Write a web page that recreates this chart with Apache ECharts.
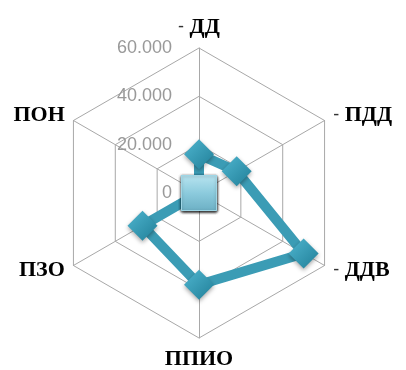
<!DOCTYPE html>
<html>
<head>
<meta charset="utf-8">
<script src="https://cdn.jsdelivr.net/npm/echarts@6/dist/echarts.min.js"></script>
<style>
  html, body { margin: 0; padding: 0; background: #fff; }
  #chart { width: 406px; height: 370px; }
</style>
</head>
<body>
<div id="chart"></div>
<script>
// 指标（ECharts 雷达图按逆时针排列，从顶部开始）
const indicatorNames = ['-ДД', 'ПОН', 'ПЗО', 'ППИО', '-ДДВ', '-ПДД'];
// 对应数值
const seriesValues = [16, 0, 27, 38, 50, 18];
// 刻度
const axisMax = 60;
const axisSplit = 3;

const myChart = echarts.init(document.getElementById('chart'));

const indicators = indicatorNames.map((name, i) => {
    const ind = { name: name, min: 0, max: axisMax };
    if (i === 0) {
        // 只在顶部轴上显示刻度标签
        ind.axisLabel = { show: true };
    }
    return ind;
});

const option = {
    backgroundColor: '#fff',
    radar: {
        center: [199, 193],
        radius: 145,
        startAngle: 90,
        shape: 'polygon',
        splitNumber: axisSplit,
        indicator: indicators,
        nameGap: 10,
        axisName: {
            color: '#000',
            fontFamily: 'Liberation Serif',
            fontWeight: 'bold',
            fontSize: 22,
            formatter: function (name) {
                // 前导短横线用细体
                if (name.charAt(0) === '-') {
                    return '{h|-} ' + name.slice(1);
                }
                return name;
            },
            rich: {
                h: {
                    fontFamily: 'Liberation Sans',
                    fontWeight: 'normal',
                    fontSize: 18,
                    color: '#333'
                }
            }
        },
        axisLine: { lineStyle: { color: '#a8a8a8', width: 1 } },
        splitLine: { lineStyle: { color: '#a8a8a8', width: 1 } },
        splitArea: { show: false },
        axisLabel: {
            show: false,
            color: '#999',
            fontFamily: 'Liberation Sans',
            fontSize: 18,
            margin: 27,
            showMinLabel: true,
            showMaxLabel: true,
            formatter: function (v) {
                return v === 0 ? '0' : v.toFixed(3);
            }
        }
    },
    series: [{
        type: 'radar',
        symbol: 'diamond',
        symbolSize: 30,
        lineStyle: {
            color: '#3b9cb5',
            width: 10
        },
        itemStyle: {
            color: new echarts.graphic.LinearGradient(0, 0, 1, 1, [
                { offset: 0, color: '#4fb5cf' },
                { offset: 1, color: '#207f98' }
            ]),
            shadowBlur: 4,
            shadowColor: 'rgba(0,0,0,0.35)',
            shadowOffsetY: 2
        },
        data: [{ value: seriesValues }]
    }, {
        // 中心方形标记（ПОН = 0）
        type: 'radar',
        symbol: 'rect',
        symbolSize: 35,
        lineStyle: { width: 0, opacity: 0 },
        itemStyle: {
            color: new echarts.graphic.LinearGradient(0, 0, 0, 1, [
                { offset: 0, color: '#b8e4f0' },
                { offset: 0.5, color: '#8ccbdd' },
                { offset: 1, color: '#6cb0c4' }
            ]),
            borderColor: '#9fd6e6',
            borderWidth: 1,
            shadowBlur: 3,
            shadowColor: 'rgba(0,0,0,0.25)',
            shadowOffsetY: 1
        },
        data: [{
            value: seriesValues.map((v, i) => (i === 1 ? v : '-'))
        }]
    }]
};

myChart.setOption(option);
</script>
</body>
</html>
